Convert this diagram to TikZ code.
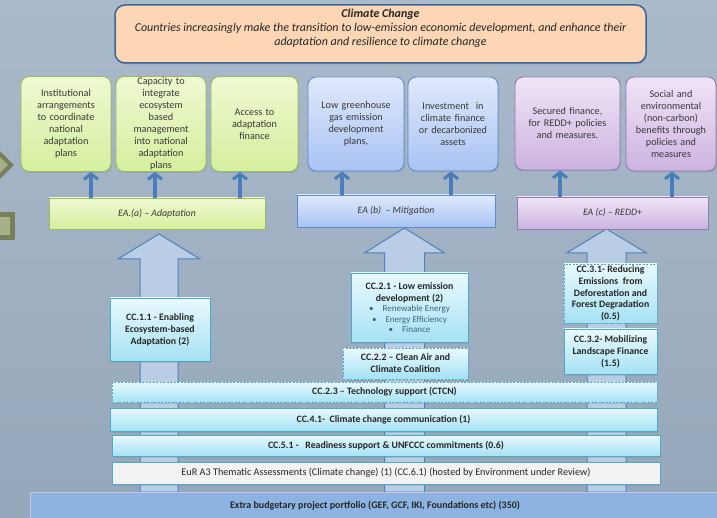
\documentclass[tikz,border=0pt]{standalone}
\usepackage{fontspec}
\setmainfont{Carlito}
\usetikzlibrary{shadows,arrows.meta}
\definecolor{bgtop}{HTML}{A9BACB}
\definecolor{bgbot}{HTML}{95A7BA}
\definecolor{olivedk}{HTML}{77805A}
\definecolor{olivelt}{HTML}{A8B089}
\definecolor{peach}{HTML}{FCD6B5}
\definecolor{navy}{HTML}{3E6595}
\definecolor{gtop}{HTML}{EEF9D2}
\definecolor{gbot}{HTML}{D6EF9E}
\definecolor{gborder}{HTML}{9BBB59}
\definecolor{btop}{HTML}{E0E9FB}
\definecolor{bbot}{HTML}{A8C3F3}
\definecolor{bborder}{HTML}{5B8BD0}
\definecolor{ptop}{HTML}{F0E5F7}
\definecolor{pbot}{HTML}{CCB3E0}
\definecolor{pborder}{HTML}{9577B5}
\definecolor{ctop}{HTML}{E9F9FE}
\definecolor{cbot}{HTML}{A5E2F4}
\definecolor{cborder}{HTML}{4BACC6}
\definecolor{arrfill}{HTML}{B9CDE5}
\definecolor{arrline}{HTML}{4F81BD}
\definecolor{thinarr}{HTML}{4A7EBB}
\definecolor{basefill}{HTML}{8DB3E2}
\definecolor{baseline}{HTML}{CBC4E0}
\definecolor{bullettext}{HTML}{3F5F7F}
\newcommand{\bulletline}[1]{{\mdseries\fontsize{9}{10.5}\selectfont\color{bullettext}\textbullet\quad #1}}
\begin{document}
\begin{tikzpicture}[x=1pt,y=-1pt,
  shadowed/.style={drop shadow={opacity=0.25,shadow xshift=1pt,shadow yshift=-1.5pt}},
  box/.style={rounded corners=8pt, line width=0.9pt, align=center, inner sep=0pt,
    font=\fontsize{10.2}{12}\selectfont, text=black!78, shadowed},
  gbox/.style={box, draw=gborder, top color=gtop, bottom color=gbot},
  bbox/.style={box, draw=bborder, top color=btop, bottom color=bbot},
  pbox/.style={box, draw=pborder, top color=ptop, bottom color=pbot},
  eabar/.style={line width=0.9pt, inner sep=0pt, shadowed,
    font=\fontsize{9.8}{11}\selectfont\itshape, text=black!78},
  ccbox/.style={line width=0.9pt, draw=cborder, top color=ctop, bottom color=cbot,
    inner sep=0pt, align=center, font=\fontsize{9.8}{12}\selectfont\bfseries, text=black!85, shadowed},
  dashedbox/.style={dash pattern=on 2pt off 1.5pt},
  blockarrow/.style={fill=arrfill, draw=arrline, line width=1pt, line join=miter},
  uparrow/.style={draw=thinarr, line width=3.5pt, -{Straight Barb[length=5.5pt,width=14pt,line width=3pt]}}
]
\useasboundingbox (0,0) rectangle (717,518);
% background
\fill[top color=bgtop, bottom color=bgbot] (0,0) rectangle (717,518);

% left edge decorations
\draw[line width=4pt, draw=olivedk, fill=olivelt, line join=miter] (11,165) -- (-6,148) -- (-23,165) -- (-6,182) -- cycle;
\draw[line width=5pt, draw=olivedk, fill=olivelt] (-10,214.5) rectangle (12.5,237.5);

% block arrows (behind the CC boxes)
\draw[blockarrow] (159,234) -- (200,259) -- (178,259) -- (178,492) -- (140,492) -- (140,259) -- (118,259) -- cycle;
\draw[blockarrow] (404.5,228) -- (444.5,253) -- (424.5,253) -- (424.5,492) -- (384.5,492) -- (384.5,253) -- (364.5,253) -- cycle;
\draw[blockarrow] (606.5,229) -- (646.5,253) -- (626,253) -- (626,492) -- (587,492) -- (587,253) -- (566.5,253) -- cycle;

% top goal box
\node[draw=navy, line width=1.5pt, fill=peach, rounded corners=10pt, minimum width=531pt, minimum height=58pt, inner sep=0pt, shadowed] (goal) at (380.5,34) {};
\node[align=center, inner sep=0pt, font=\fontsize{12}{14}\selectfont\itshape, text=black!85] (goaltext) at ([yshift=6pt]goal.center)
  {\textbf{Climate Change}\\Countries increasingly make the transition to low-emission economic development, and enhance their\\adaptation and resilience to climate change};

% result boxes
\node[gbox, minimum width=90pt, minimum height=95pt, text width=88pt] (g1) at (66,124) {Institutional\\arrangements\\to coordinate\\national\\adaptation\\plans};
\node[gbox, minimum width=90pt, minimum height=95pt, text width=88pt] (g2) at (161,124) {Capacity to\\integrate\\ecosystem\\based\\management\\into national\\adaptation\\plans};
\node[gbox, minimum width=87pt, minimum height=95pt, text width=85pt] (g3) at (254.5,124) {Access to\\adaptation\\finance};
\node[bbox, minimum width=96pt, minimum height=94pt, text width=94pt] (b1) at (356,124) {Low greenhouse\\gas emission\\development\\plans,};
\node[bbox, minimum width=90pt, minimum height=94pt, text width=88pt] (b2) at (453,124) {Investment~~in\\climate finance\\or decarbonized\\assets};
\node[pbox, minimum width=105pt, minimum height=93pt, text width=103pt] (p1) at (567.5,123.5) {Secured finance,\\for REDD+ policies\\and measures.};
\node[pbox, minimum width=90pt, minimum height=94pt, text width=88pt] (p2) at (671,124) {Social and\\environmental\\(non-carbon)\\benefits through\\policies and\\measures};

% EA bars
\node[eabar, draw=gborder, top color=gtop, bottom color=gbot, minimum width=216pt, minimum height=31pt] (eaa) at (157,213.5) {EA.(a) -- Adaptation};
\node[eabar, draw=bborder, top color=btop, bottom color=bbot, minimum width=198pt, minimum height=32pt] (eab) at (396,211) {EA (b)~~-- Mitigation};
\node[eabar, draw=pborder, top color=ptop, bottom color=pbot, minimum width=191pt, minimum height=32pt] (eac) at (612.5,213) {EA (c) -- REDD+};

% thin arrows
\coordinate (x1) at (91,0);
\coordinate (x2) at (155,0);
\coordinate (x3) at (240,0);
\coordinate (x4) at (342,0);
\coordinate (x5) at (451,0);
\coordinate (x6) at (560,0);
\coordinate (x7) at (672,0);
\draw[uparrow] (eaa.north -| x1) -- (g1.south -| x1);
\draw[uparrow] (eaa.north -| x2) -- (g2.south -| x2);
\draw[uparrow] (eaa.north -| x3) -- (g3.south -| x3);
\draw[uparrow] (eab.north -| x4) -- (b1.south -| x4);
\draw[uparrow] (eab.north -| x5) -- (b2.south -| x5);
\draw[uparrow] (eac.north -| x6) -- (p1.south -| x6);
\draw[uparrow] (eac.north -| x7) -- (p2.south -| x7);

% CC boxes
\node[ccbox, minimum width=100pt, minimum height=63pt] (cc11) at (160,329.5) {CC.1.1 - Enabling\\Ecosystem-based\\Adaptation (2)};
\node[ccbox, minimum width=117pt, minimum height=69pt] (cc21) at (409.5,307.5)
  {CC.2.1 - Low emission\\development (2)\\[-1.5pt]\bulletline{Renewable Energy}\\[-1.5pt]\bulletline{Energy Efficiency}\\[-1.5pt]\bulletline{Finance}};
\node[ccbox, dashedbox, minimum width=125pt, minimum height=31pt] (cc22) at (405.5,363.5) {CC.2.2 -- Clean Air and\\Climate Coalition};
\node[ccbox, dashedbox, minimum width=93pt, minimum height=59pt, font=\fontsize{9.8}{11.8}\selectfont\bfseries] (cc31) at (610.5,293.5) {CC.3.1- Reducing\\Emissions~~from\\Deforestation and\\Forest Degradation\\(0.5)};
\node[ccbox, minimum width=93pt, minimum height=45pt] (cc32) at (610.5,351.5) {CC.3.2- Mobilizing\\Landscape Finance\\(1.5)};

% horizontal bars
\node[ccbox, dashedbox, minimum width=545pt, minimum height=20pt] (cc23) at (384.5,392) {CC.2.3 -- Technology support (CTCN)};
\node[ccbox, minimum width=547pt, minimum height=23pt] (cc41) at (383.5,419.5) {CC.4.1-~~Climate change communication (1)};
\node[ccbox, minimum width=548pt, minimum height=21pt] (cc51) at (386,445.5) {CC.5.1 -~~~Readiness support \& UNFCCC commitments (0.6)};
\node[ccbox, top color=black!5, bottom color=black!5, minimum width=548pt, minimum height=22pt, font=\fontsize{10.2}{11}\selectfont] (eur) at (386,473) {EuR A3 Thematic Assessments (Climate change) (1) (CC.6.1) (hosted by Environment under Review)};

% base bar
\node[draw=baseline, line width=1pt, fill=basefill, minimum width=692pt, minimum height=30pt, inner sep=0pt, anchor=north west] (extra) at (30,492) {};
\node[inner sep=0pt, font=\fontsize{10}{10}\selectfont\bfseries, text=black!85] (extratext) at (375,506) {Extra budgetary project portfolio (GEF, GCF, IKI, Foundations etc) (350)};
\end{tikzpicture}
\end{document}
